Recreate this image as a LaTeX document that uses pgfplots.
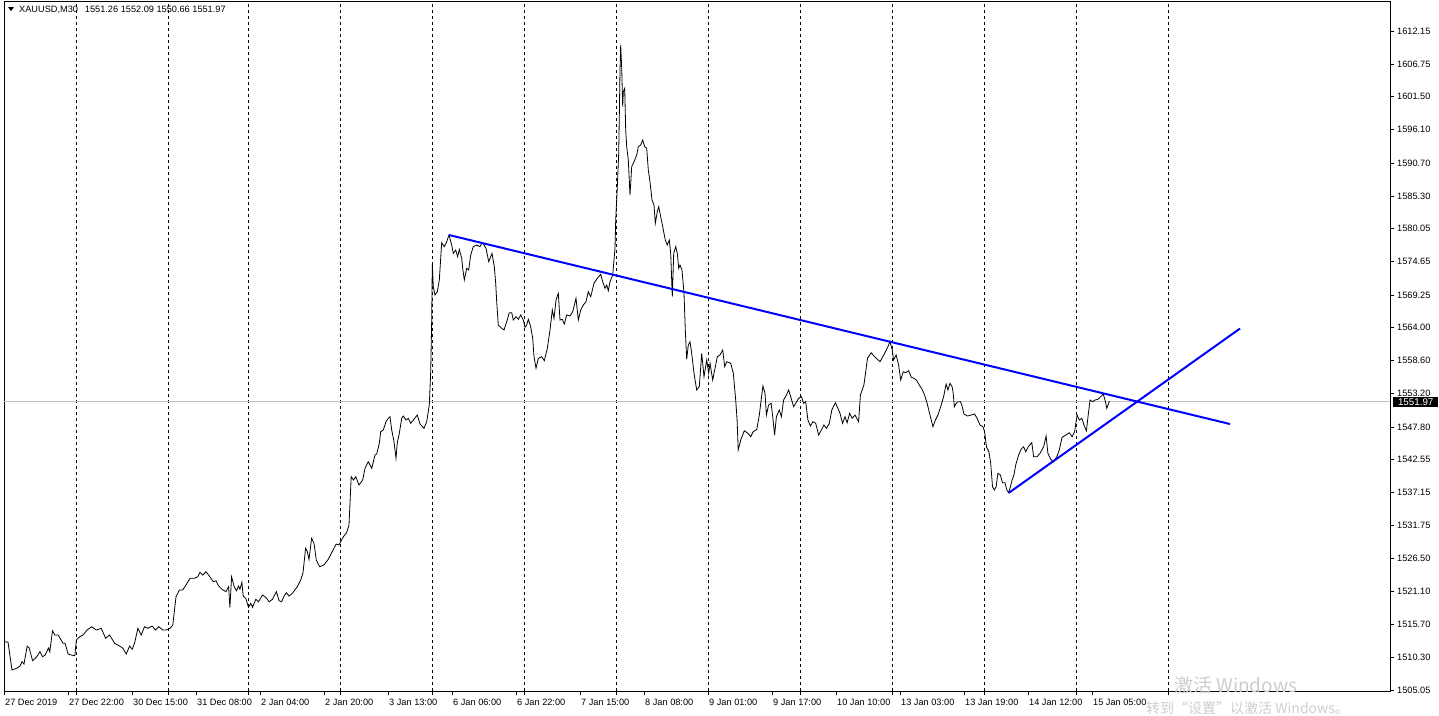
\documentclass[border=0pt]{standalone}
\usepackage{fontspec}
\setmainfont{Liberation Sans}
\newfontfamily\cjk{Noto Sans CJK SC}
\usepackage{pgfplots}
\pgfplotsset{compat=1.18}
\definecolor{pricegray}{RGB}{192,192,192}
\definecolor{wmgray}{RGB}{205,205,205}
\begin{document}
\begin{tikzpicture}[x=1pt,y=1pt]
\path[use as bounding box] (0pt,-715pt) rectangle (1439pt,0pt);
\begin{axis}[
  at={(4pt,-691pt)}, anchor=south west,
  scale only axis, width=1386pt, height=690pt,
  xmin=4, xmax=1390, ymin=1504.89, ymax=1617.03,
  axis line style={black, line width=0.8pt},
  font=\fontsize{9.2}{10}\selectfont,
  tick align=outside, major tick length=4pt,
  tick style={black, line width=0.8pt},
  xtick pos=bottom, ytick pos=right, yticklabel pos=right,
  xtick={4,68,132,196,260,324,388,452,516,580,644,708,772,836,900,964,1028,1092},
  xticklabels={27 Dec 2019,27 Dec 22:00,30 Dec 15:00,31 Dec 08:00,2 Jan 04:00,2 Jan 20:00,3 Jan 13:00,6 Jan 06:00,6 Jan 22:00,7 Jan 15:00,8 Jan 08:00,9 Jan 01:00,9 Jan 17:00,10 Jan 10:00,13 Jan 03:00,13 Jan 19:00,14 Jan 12:00,15 Jan 05:00},
  xticklabel style={anchor=north west, inner sep=0pt, xshift=1pt, yshift=-4pt},
  extra x ticks={76,168,248,340,432,524,616,708,800,892,984,1076,1168},
  extra x tick labels={},
  extra x tick style={grid=major, major grid style={black, line width=0.7pt, dash pattern=on 3pt off 3pt}},
  ytick={1505.05,1510.30,1515.70,1521.10,1526.50,1531.75,1537.15,1542.55,1547.80,1553.20,1558.60,1564.00,1569.25,1574.65,1580.05,1585.30,1590.70,1596.10,1601.50,1606.75,1612.15},
  yticklabels={1505.05,1510.30,1515.70,1521.10,1526.50,1531.75,1537.15,1542.55,1547.80,1553.20,1558.60,1564.00,1569.25,1574.65,1580.05,1585.30,1590.70,1596.10,1601.50,1606.75,1612.15},
  yticklabel style={anchor=west, inner sep=0pt, xshift=3pt},
]
\addplot[pricegray, line width=0.8pt] coordinates {(4,1551.97) (1390,1551.97)};
\addplot[black, line width=0.8pt] coordinates {
(4,1512.90) (8,1512.85) (12,1508.30) (17.3,1508.63) (20,1508.95) (22,1509.65) (24,1509.28) (27.2,1512.20) (29.2,1511.88) (32.6,1509.81) (36.5,1510.41) (40,1511.28) (42.5,1510.46) (45.2,1510.74) (48.5,1511.88) (49.8,1511.28) (52.5,1514.69) (54.8,1513.99) (58.1,1513.99) (63.1,1512.64) (65.1,1512.64) (68.1,1510.90) (71.4,1510.74) (74.8,1510.62) (76.4,1513.18) (79.7,1513.71) (83,1513.99) (87,1514.80) (91.7,1515.34) (96.3,1514.80) (101.3,1515.08) (105.6,1513.45) (109.6,1513.99) (114.6,1512.64) (119.6,1512.20) (122.9,1511.83) (126.2,1510.90) (129.6,1512.20) (132.2,1511.67) (134.5,1512.64) (137.9,1515.08) (141.2,1513.99) (144.5,1515.34) (147.8,1515.08) (152.2,1515.45) (155.5,1514.80) (158.8,1515.34) (162.8,1514.80) (166.1,1514.80) (170,1515.08) (172.8,1515.61) (176,1520.21) (179.4,1521.30) (182.7,1521.30) (186,1522.12) (190,1523.20) (194.4,1523.20) (197.7,1523.46) (200,1524.18) (202.7,1523.74) (206,1524.28) (209.3,1523.58) (213.3,1522.65) (216,1522.81) (218.6,1521.95) (222,1521.42) (226,1521.03) (228.6,1521.84) (229.9,1518.49) (231.6,1523.46) (234.2,1521.84) (236.5,1521.19) (238.5,1521.95) (239.9,1521.42) (241.9,1522.55) (243.2,1520.33) (245.8,1519.95) (248.5,1518.49) (250.8,1519.14) (252.5,1518.49) (255.8,1519.79) (258.5,1519.40) (262.5,1520.49) (265.8,1520.12) (269.1,1519.40) (272.4,1519.79) (276.4,1521.03) (279.1,1519.56) (281.7,1519.40) (284.1,1520.33) (286.4,1520.86) (289,1520.33) (292.4,1520.77) (297.3,1521.84) (300.7,1522.93) (303,1524.11) (305.6,1528.08) (307.3,1527.53) (309,1526.29) (311.6,1529.71) (314,1528.89) (316.3,1526.18) (319.6,1525.09) (323.9,1525.37) (328.2,1526.29) (332.2,1527.53) (336.2,1528.78) (338.9,1528.62)
(343.4,1529.97) (346.6,1530.62) (349,1531.87) (351.2,1539.72) (353.5,1539.18) (355.8,1539.72) (359,1538.37) (362.7,1539.18)
(365,1541.08) (368.3,1542.15) (371.7,1541.08) (375,1543.24) (376.7,1543.41) (379.3,1545.14) (380.7,1547.03) (383.3,1547.31) (386,1548.66) (388.3,1549.21) (390,1549.47) (391.7,1547.31) (394,1545.40) (396,1542.71) (397.3,1545.24) (399.3,1546.77) (401.7,1549.21) (403.3,1549.58) (406,1548.93) (408.3,1549.21) (410.7,1548.39) (413.3,1548.93) (417.3,1549.74) (420,1548.28) (424,1547.58) (426.7,1548.66) (429.3,1551.37) (430.7,1556.78) (431.7,1565.18) (432.3,1574.40) (433.3,1570.60) (435,1569.25) (437.3,1569.78) (439.3,1571.68) (441.7,1577.75) (444.3,1577.10) (446.7,1577.91) (449,1579.00) (451.7,1577.37) (453.3,1576.02) (455.7,1576.56) (457.7,1575.47) (459.3,1576.67) (461.7,1575.21) (462.7,1573.59) (464.3,1571.68) (466.7,1573.59) (468.7,1573.31) (470.7,1575.75) (473.3,1577.10) (476.7,1577.37) (480,1577.10) (482,1577.75) (484,1577.37) (486,1576.84) (488.7,1574.66) (492,1576.02) (494.3,1573.85) (495.7,1571.15) (496.7,1568.16) (498.3,1564.37) (501.7,1563.83) (504,1563.56) (506.7,1564.91) (509.3,1566.37) (511.7,1566.37) (513.3,1565.18) (516,1565.72) (518.3,1565.30) (520.7,1566.00) (523.3,1565.18) (525,1564.00) (526.7,1564.37) (528.3,1565.30) (530.7,1564.09) (532.7,1562.21) (534,1559.22) (536,1557.34) (538.3,1558.96) (541.7,1559.22) (544.3,1558.57) (547.3,1560.58) (550,1563.56) (552.3,1566.81) (554,1565.46) (556,1568.43) (558.3,1569.52) (560,1565.18) (562.3,1565.30) (564.3,1564.53) (566.7,1566.00) (570,1565.83) (572.7,1566.53) (576,1568.71) (578.3,1565.18) (580.7,1566.81) (583.3,1567.62) (586,1568.16) (588.3,1569.78) (590.7,1568.97) (594,1571.15) (597.3,1571.96) (600.7,1572.61) (602.7,1571.41) (605,1570.34) (606.7,1570.87) (608.3,1569.95) (610,1571.41) (612.7,1572.50) (615,1576.84) (615.7,1581.44)
(617.3,1586.85) (618.7,1592.28) (619.3,1598.22) (620,1605.81) (620.7,1609.88) (621.7,1606.09) (622.7,1599.85) (623.3,1602.29) (624.7,1602.84) (625.7,1596.06) (626.7,1593.35) (628.3,1591.19) (630,1585.50) (631.7,1590.10) (634,1590.91) (636.7,1592.00) (638.3,1593.35) (640.7,1593.62) (642.7,1594.44) (644.7,1593.35) (646.7,1593.09) (648.3,1589.56) (650,1587.66) (652,1584.69) (654,1583.87) (655.3,1580.90) (657.3,1582.78) (658.7,1583.60) (660.7,1581.97) (662.7,1580.35) (665.3,1578.19) (667.3,1577.37) (669.3,1578.19) (670.7,1576.02) (672.3,1568.97) (673.7,1576.02) (675.7,1577.10) (677.3,1576.02) (678.7,1573.59) (680,1574.12) (682,1573.31) (684,1569.52) (685.3,1563.56) (686.7,1558.80) (688.3,1561.12) (690,1561.66) (691.7,1559.77) (694,1556.52) (696.7,1553.81) (699.3,1554.34) (701.7,1559.77) (704,1555.97) (706.7,1558.68) (708.7,1556.52) (710,1558.15) (712.7,1555.43) (715,1557.34) (717.3,1559.22) (720,1559.50) (722.7,1560.31) (724.7,1557.59) (726.7,1558.41) (730.7,1558.15) (733.3,1556.52) (735.7,1552.18)
(737.1,1548.93) (738.2,1544.06) (740.7,1545.68) (744.3,1547.19) (747.9,1546.77) (750.7,1546.22) (753.2,1547.03) (756.8,1547.42) (759.3,1549.74) (762.9,1554.46) (765,1553.27) (766.4,1549.74) (768.6,1551.37) (771.1,1551.65) (772.9,1549.21) (774.6,1546.49) (776.4,1549.47) (779.3,1550.56) (781.4,1549.47) (783.6,1552.18) (786.4,1552.99) (788.6,1553.81) (790.7,1552.72) (793.6,1551.09) (796.1,1551.74) (798.6,1552.46) (801.4,1552.72) (803.6,1551.65) (805.7,1551.91) (807.9,1548.93) (810.4,1547.96) (812.9,1548.66) (815.7,1548.39) (818.6,1546.49) (821.4,1547.31) (823.9,1548.12) (826.4,1547.58) (829.3,1548.39) (831.8,1550.56) (835.4,1551.74) (837.9,1550.83) (840,1550.02) (842.5,1548.39) (845,1549.47) (847.1,1548.49) (849.6,1550.02) (852.1,1549.21) (855,1549.74) (858.6,1548.66) (860.4,1552.99) (863.9,1554.62) (867.5,1558.96) (871.1,1559.87) (874.6,1559.22) (880,1558.41) (884.3,1559.66) (887.9,1560.84) (890,1561.66) (892.1,1560.42) (893.6,1558.68) (896.1,1559.50) (898.6,1557.87) (900.7,1555.43) (903.2,1556.78) (905.7,1556.62) (908.6,1556.94) (911.4,1555.87) (913.9,1555.71) (916.4,1555.43) (919.3,1554.62) (922.1,1553.92) (924.6,1552.99) (927.1,1551.65) (930,1549.74) (932.9,1547.84) (935.4,1548.93) (937.9,1549.74) (940.7,1551.09) (943.6,1552.72) (946.1,1554.78) (947.9,1553.81) (950,1554.90) (952.1,1554.34) (953.2,1553.27) (954.3,1551.09) (955.7,1551.53) (957.9,1551.91) (960.4,1551.91) (962.1,1551.21) (963.9,1549.91) (967.5,1549.58) (971.1,1549.74) (974.6,1549.91) (977.1,1549.21) (980,1548.12) (982.9,1547.84) (984.6,1547.03) (986.4,1544.59) (988.9,1543.78) (990.7,1541.90) (992.5,1538.09) (994.3,1537.56) (996.1,1538.09) (997.9,1540.27) (1000.4,1539.99) (1002.5,1538.74) (1005,1538.74) (1006.8,1537.56) (1008.6,1537.12) (1010.4,1538.09) (1012.1,1539.18) (1013.9,1539.99) (1015.7,1541.62) (1018.6,1543.24) (1021.1,1544.17) (1023.6,1544.59) (1025.7,1543.78) (1028.2,1544.59) (1031.8,1545.24) (1033.6,1542.97) (1037.1,1542.97) (1040,1543.52) (1043.6,1544.59) (1046.1,1546.33) (1047.9,1543.52) (1050.7,1542.55) (1053.2,1542.15) (1056.8,1542.97) (1059.3,1544.06) (1062.1,1546.12) (1065.7,1546.49) (1069.3,1546.87) (1072.1,1546.22) (1074.6,1547.03) (1077.1,1549.74) (1079.3,1548.93) (1081.8,1549.21) (1084.3,1547.96) (1086.4,1547.19) (1088.2,1549.74) (1090,1552.18) (1092.5,1551.91) (1095,1552.18) (1097.9,1552.30) (1100.7,1552.72) (1103.2,1553.16) (1105,1552.18) (1106.8,1550.83) (1108.6,1551.65) (1109.6,1551.97)
};
\addplot[blue, line width=2pt] coordinates {(449,1579.00) (1230,1548.28)};
\addplot[blue, line width=2pt] coordinates {(1009,1537.12) (1240,1563.80)};
\end{axis}
% price tag
\node[fill=black, text=white, inner sep=0pt, minimum width=45pt, minimum height=9.8pt, anchor=west, font=\fontsize{9.8}{10}\selectfont] at (1393pt,-402.2pt) {1551.97};
% header
\fill[black] (8pt,-7pt) -- (14pt,-7pt) -- (11pt,-11pt) -- cycle;
\node[anchor=west, inner sep=0pt, font=\fontsize{9.2}{10}\selectfont] at (19pt,-9.5pt) {XAUUSD,M30\hspace{7pt}1551.26 1552.09 1550.66 1551.97};
% watermark
\node[anchor=west, inner sep=0pt, text=wmgray, font=\cjk\fontsize{19}{20}\selectfont] at (1174pt,-685pt) {激活 Windows};
\node[anchor=west, inner sep=0pt, text=wmgray, font=\cjk\fontsize{14}{15}\selectfont] at (1146pt,-708pt) {转到“设置”以激活 Windows。};
\end{tikzpicture}
\end{document}
